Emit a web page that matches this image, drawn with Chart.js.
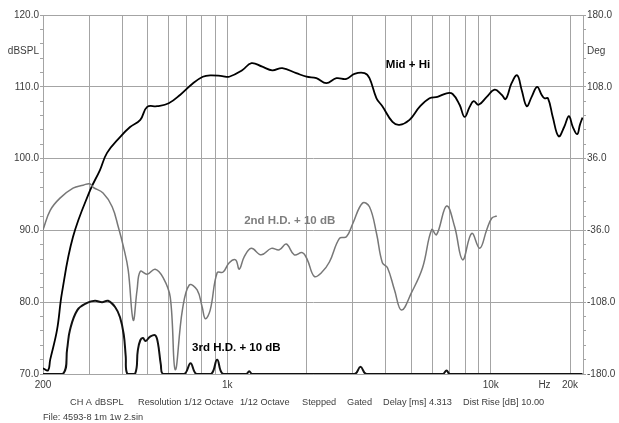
<!DOCTYPE html>
<html>
<head>
<meta charset="utf-8">
<script src="https://cdn.jsdelivr.net/npm/chart.js@4/dist/chart.umd.min.js"></script>
<style>
  html, body { margin: 0; padding: 0; background: #fff; }
</style>
</head>
<body>
<canvas id="fr" width="619" height="423"></canvas>
<script>
// frequency response + distortion
const mainFreq = [200, 209, 213, 226, 236, 260, 302, 329, 350, 392, 428, 468, 497, 542, 600, 664, 742, 808, 862, 957, 1018,
  1140, 1236, 1359, 1483, 1619, 1829, 2000, 2180, 2378, 2597, 2835, 3040, 3320, 3467, 3686, 3880, 4240, 4508, 4920, 5370,
  5860, 6280, 6800, 7170, 7620, 7960, 8320, 8610, 9000, 9660, 10360, 11000, 11400, 12000, 12600, 13100, 13700, 14300,
  15000, 15600, 16000, 16500, 17200, 18100, 19000, 19800, 20500, 21300, 21800, 22300];
const mainDb = [70.8, 70.5, 72.0, 76.1, 81.3, 89.1, 95.6, 98.4, 100.8, 103.0, 104.4, 105.4, 107.2, 107.3, 107.7, 108.9, 110.5, 111.4, 111.6, 111.5, 111.4,
  112.3, 113.3, 112.8, 112.3, 112.6, 111.9, 111.4, 111.2, 110.5, 111.2, 111.1, 111.8, 111.9, 111.2, 108.4, 107.3, 105.1, 104.7, 105.4, 107.2,
  108.4, 108.6, 109.1, 109.0, 107.5, 105.8, 107.2, 108.0, 107.5, 108.6, 109.6, 108.9, 108.3, 110.5, 111.6, 109.6, 107.3, 108.6,
  110.0, 108.9, 108.4, 108.4, 105.8, 103.1, 104.4, 105.9, 104.4, 103.4, 104.7, 105.7];

const h2Freq = [200, 213, 232, 260, 284, 301, 310, 338, 366, 386, 404, 421, 440, 455, 468, 497, 533, 572, 608, 635, 676, 718, 769, 804, 826,
  862, 916, 965, 1018, 1076, 1111, 1160, 1234, 1347, 1470, 1577, 1676, 1797, 1928, 2015, 2140, 2277, 2443, 2667, 2835, 3000, 3262,
  3467, 3686, 3880, 4058, 4315, 4586, 5000, 5512, 5968, 6232, 6800, 7298, 7826, 8470, 9083, 9660, 10090, 10540];
const h2Db = [90.1, 92.8, 94.5, 95.9, 96.3, 96.5, 96.0, 95.2, 93.3, 90.5, 87.7, 84.5, 77.5, 81.7, 84.3, 83.9, 84.6, 83.4, 80.7, 70.6, 78.9, 82.4, 81.7, 79.3, 77.7,
  78.9, 84.1, 84.2, 85.5, 85.9, 84.6, 86.3, 87.5, 86.6, 87.5, 87.3, 88.1, 86.6, 86.9, 85.9, 83.6, 84.1, 85.6, 88.9, 89.1, 91.0, 93.8,
  93.3, 89.6, 85.5, 84.8, 81.7, 78.9, 81.3, 84.8, 90.1, 89.4, 93.4, 90.5, 85.9, 89.6, 87.5, 90.1, 91.7, 92.0];

const h3Freq = [200, 238, 247, 253, 270, 294, 315, 335, 353, 376, 392, 405, 412, 418, 447, 458, 468, 479, 490, 510, 533, 546, 560, 572,
  687, 726, 763, 869, 916, 965, 1181, 1212, 1244, 3040, 3205, 3378, 6570, 6800, 7000, 22300];
const h3Db = [70, 70, 73.5, 76.1, 78.9, 79.9, 80.2, 80.0, 80.2, 79.3, 77.9, 75.5, 72.5, 70, 70, 73.3, 74.7, 75.0, 74.6, 75.2, 75.4, 74.3, 71.3, 70,
  70, 71.5, 70, 70, 72.0, 70, 70, 70.4, 70, 70, 71.0, 70, 70, 70.5, 70, 70];

// axis ticks
const xTicks = [200, 300, 400, 500, 600, 700, 800, 900, 1000, 2000, 3000, 4000, 5000, 6000, 7000, 8000, 9000, 10000, 16000, 20000];
const xLabels = { 200: '200', 1000: '1k', 10000: '10k', 16000: 'Hz', 20000: '20k' };
const dbTicks = [70, 72, 74, 76, 78, 80, 82, 84, 86, 88, 90, 92, 94, 96, 98, 100, 102, 104, 106, 108, 110, 112, 114, 115, 116, 118, 120];
const degTicks = [-180, -165.6, -151.2, -136.8, -122.4, -108, -93.6, -79.2, -64.8, -50.4, -36, -21.6, -7.2, 7.2, 21.6, 36,
  50.4, 64.8, 79.2, 93.6, 108, 122.4, 136.8, 144, 151.2, 165.6, 180];

const gridCol = '#a4a4a4';
const textCol = '#3c3c3c';
const tickFont = { family: 'Liberation Sans, Arial, sans-serif', size: 10 };

function toPoints(fs, ds) {
  return fs.map((f, i) => ({ x: f, y: ds[i] }));
}

const labels = [
  { text: 'Mid + Hi', x: 4000, y: 113.0, color: '#000' },
  { text: '2nd H.D. + 10 dB', x: 1160, y: 91.4, color: '#7e7e7e' },
  { text: '3rd H.D. + 10 dB', x: 736, y: 73.6, color: '#000' }
];

const footer = [
  ['CH A', 70], ['dBSPL', 95], ['Resolution 1/12 Octave', 138], ['1/12 Octave', 240], ['Stepped', 302],
  ['Gated', 347], ['Delay [ms] 4.313', 383], ['Dist Rise [dB] 10.00', 463]
];

const extras = {
  id: 'extras',
  afterDatasetsDraw(chart) {
    const c = chart.ctx, a = chart.chartArea;
    const sx = chart.scales.x, sy = chart.scales.y;
    c.save();
    // top frame line
    c.strokeStyle = gridCol;
    c.lineWidth = 1;
    c.beginPath();
    c.moveTo(a.left, a.top + 0.5);
    c.lineTo(a.right, a.top + 0.5);
    c.stroke();
    // curve labels
    c.font = 'bold 11.5px Liberation Sans, Arial, sans-serif';
    c.textBaseline = 'middle';
    c.textAlign = 'left';
    labels.forEach(l => {
      c.fillStyle = l.color;
      c.fillText(l.text, sx.getPixelForValue(l.x), sy.getPixelForValue(l.y));
    });
    // footer lines
    c.font = '9.2px Liberation Sans, Arial, sans-serif';
    c.fillStyle = textCol;
    footer.forEach(f => c.fillText(f[0], f[1], 402));
    c.fillText('File: 4593-8 1m 1w 2.sin', 43, 417);
    c.restore();
  }
};

new Chart(document.getElementById('fr'), {
  type: 'line',
  data: {
    datasets: [
      { label: '2nd H.D. + 10 dB', data: toPoints(h2Freq, h2Db), borderColor: '#777', borderWidth: 1.5 },
      { label: '3rd H.D. + 10 dB', data: toPoints(h3Freq, h3Db), borderColor: '#111', borderWidth: 2 },
      { label: 'Mid + Hi', data: toPoints(mainFreq, mainDb), borderColor: '#000', borderWidth: 1.8 }
    ]
  },
  options: {
    responsive: false,
    animation: false,
    layout: { padding: { top: 15 } },
    elements: {
      point: { radius: 0 },
      line: { tension: 0.4, fill: false }
    },
    plugins: { legend: { display: false }, tooltip: { enabled: false } },
    scales: {
      x: {
        type: 'logarithmic',
        min: 200,
        max: 22400,
        afterBuildTicks: axis => { axis.ticks = xTicks.map(v => ({ value: v })); },
        afterFit: axis => { axis.height = 49; },
        ticks: {
          autoSkip: false,
          maxRotation: 0,
          padding: 5,
          color: textCol,
          font: tickFont,
          callback: v => xLabels[v] || ''
        },
        grid: {
          drawTicks: false,
          color: ctx => (ctx.tick && (ctx.tick.value === 16000 || ctx.tick.value === 200)) ? 'rgba(0,0,0,0)' : gridCol
        },
        border: { color: gridCol }
      },
      y: {
        type: 'linear',
        position: 'left',
        min: 70,
        max: 120,
        afterBuildTicks: axis => { axis.ticks = dbTicks.map(v => ({ value: v })); },
        afterFit: axis => { axis.width = 43; },
        ticks: {
          autoSkip: false,
          padding: 1,
          color: textCol,
          font: tickFont,
          callback: v => v === 115 ? 'dBSPL' : (v % 10 === 0 ? v.toFixed(1) : '')
        },
        grid: {
          tickLength: 3,
          color: ctx => (ctx.tick && ctx.tick.value % 10 === 0) ? gridCol : 'rgba(0,0,0,0)',
          tickColor: ctx => (ctx.tick && ctx.tick.value === 115) ? 'rgba(0,0,0,0)' : gridCol
        },
        border: { color: gridCol }
      },
      y2: {
        type: 'linear',
        position: 'right',
        min: -180,
        max: 180,
        afterBuildTicks: axis => { axis.ticks = degTicks.map(v => ({ value: v })); },
        afterFit: axis => { axis.width = 36; },
        ticks: {
          autoSkip: false,
          padding: 1,
          color: textCol,
          font: tickFont,
          callback: v => v === 144 ? 'Deg' : (Math.abs(v) % 72 === 36 || Math.abs(v) === 108 || Math.abs(v) === 180 ? v.toFixed(1) : '')
        },
        grid: {
          drawOnChartArea: false,
          tickLength: 3,
          tickColor: ctx => (ctx.tick && ctx.tick.value === 144) ? 'rgba(0,0,0,0)' : gridCol
        },
        border: { color: gridCol }
      }
    }
  },
  plugins: [extras]
});
</script>
</body>
</html>
